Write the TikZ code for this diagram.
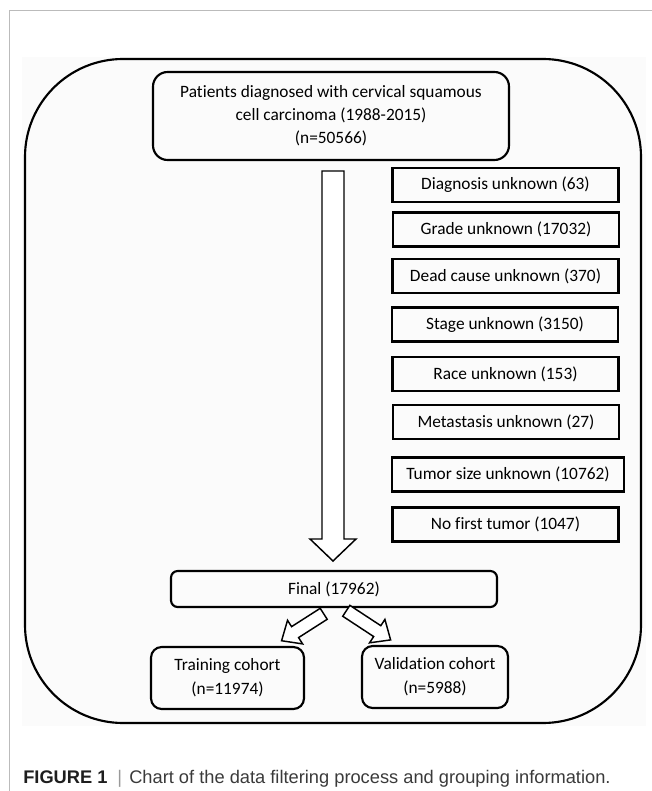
\documentclass[tikz,border=0pt]{standalone}
\usepackage{fontspec}
\setmainfont{Liberation Sans}
\newfontfamily\boxfnt[Ligatures=NoCommon]{Carlito}
\usetikzlibrary{calc}
\definecolor{frame}{HTML}{BBBBBB}
\definecolor{capbar}{HTML}{999999}
\definecolor{captext}{HTML}{3A3A3A}
\definecolor{capbold}{HTML}{1E1E1E}
\definecolor{bgtint}{HTML}{FBFBFB}
\begin{document}
\begin{tikzpicture}[x=0.75pt,y=-0.75pt,
  box/.style={draw, line width=1.6pt, inner sep=0pt, align=center,
    font=\boxfnt\fontsize{13pt}{17.25pt}\selectfont,
    minimum height=25.5pt, minimum width=169.5pt},
  blockarrow/.style={draw, line width=1.1pt, fill=white, line join=miter},
  captext/.style={anchor=base west, inner sep=0pt,
    font=\fontsize{13.7pt}{16pt}\selectfont}]
\useasboundingbox (0,0) rectangle (652,791);
% page frame and image tint
\fill[bgtint] (22,57) rectangle (646,726);
\draw[frame, line width=0.75pt] (9,791) -- (9,11) -- (652,11);
% outer rounded panel
\draw[line width=1.6pt, rounded corners=73.5pt] (25,59) rectangle (641,723);
% top box
\node[box, rounded corners=11pt, minimum width=267pt, minimum height=66pt] (top) at (331,116)
  {Patients diagnosed with cervical squamous\\cell carcinoma (1988-2015)\\(n=50566)};
% exclusion boxes
\node[box] (d1) at (505.5,185) {Diagnosis unknown (63)};
\node[box] (d2) at (506,229.5) {Grade unknown (17032)};
\node[box] (d3) at (505.5,276) {Dead cause unknown (370)};
\node[box] (d4) at (505,324.5) {Stage unknown (3150)};
\node[box] (d5) at (505.5,374) {Race unknown (153)};
\node[box] (d6) at (506,422) {Metastasis unknown (27)};
\node[box, minimum width=174pt] (d7) at (508,474.5) {Tumor size unknown (10762)};
\node[box] (d8) at (505.5,524.5) {No first tumor (1047)};
% final and cohorts
\node[box, rounded corners=5pt, minimum width=244.5pt, minimum height=27pt] (final) at (334,589) {Final (17962)};
\node[box, rounded corners=8pt, minimum width=114.75pt, minimum height=46.5pt,
  font=\boxfnt\fontsize{13pt}{18pt}\selectfont] (train) at (227.5,678) {Training cohort\\(n=11974)};
\node[box, rounded corners=8pt, minimum width=109.5pt, minimum height=46.5pt,
  font=\boxfnt\fontsize{13pt}{18pt}\selectfont] (valid) at (435,677) {Validation cohort\\(n=5988)};
% main block arrow
\draw[blockarrow] (322,171) -- (344,171) -- (344,539) -- (356,539) -- (333,561)
  -- (310,539) -- (322,539) -- cycle;
% split arrows
\begin{scope}[shift={(323.7,613.8)}, rotate=212.6]
\draw[blockarrow] (0,-6.5) -- (34,-6.5) -- (34,-14) -- (50,0) -- (34,14) -- (34,6.5) -- (0,6.5) -- cycle;
\end{scope}
\begin{scope}[shift={(346.3,610.8)}, rotate=-33.3]
\draw[blockarrow] (0,-6.5) -- (37,-6.5) -- (37,-14) -- (53,0) -- (37,14) -- (37,6.5) -- (0,6.5) -- cycle;
\end{scope}
% caption
\node[captext, font=\fontsize{13.7pt}{16pt}\selectfont\bfseries, text=capbold] (cap1) at (23,783) {FIGURE 1};
\node[captext, text=capbar] (cap2) at (117,783) {|};
\node[captext, text=captext] (cap3) at (129,783) {Chart of the data filtering process and grouping information.};
\end{tikzpicture}
\end{document}
